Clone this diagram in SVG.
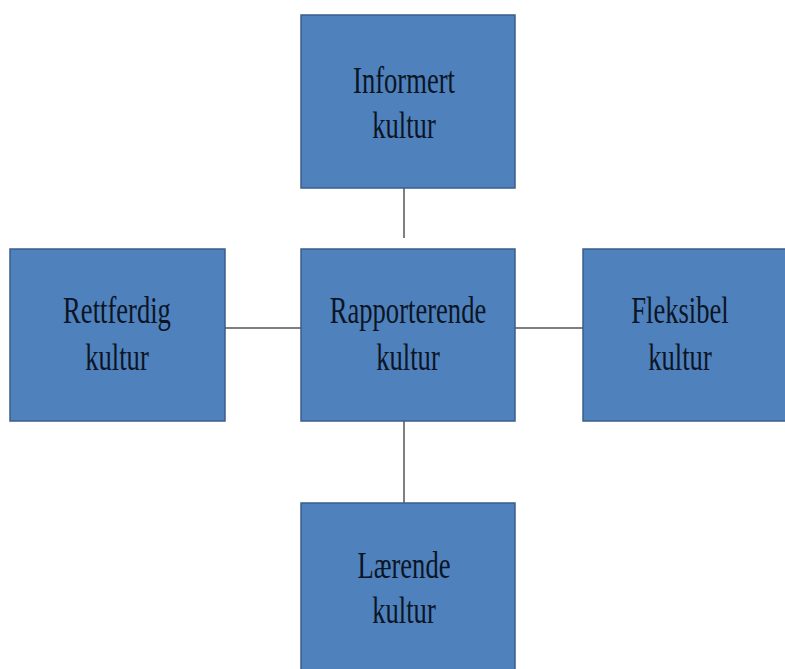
<svg xmlns="http://www.w3.org/2000/svg" width="785" height="669" viewBox="0 0 785 669">
<style>
.box{fill:#4F81BD;stroke:#3B5E8C;stroke-width:1.5}
.t{font-family:"Liberation Serif","Times New Roman",serif;font-size:38px;fill:#0B1524;text-anchor:middle}
.c{stroke:#555;stroke-width:1.5;fill:none}
</style>
<rect width="785" height="669" fill="#fff"/>
<g id="connectors">
<line class="c" x1="404" y1="188" x2="404" y2="238"/>
<line class="c" x1="225" y1="328" x2="301" y2="328"/>
<line class="c" x1="515" y1="328" x2="583" y2="328"/>
<line class="c" x1="404" y1="421" x2="404" y2="503"/>
</g>
<g id="informert">
<rect class="box" x="301" y="15" width="214" height="173"/>
<g transform="translate(404,0) scale(0.7,1)"><text class="t" x="0" y="93">Informert</text><text class="t" x="0" y="138">kultur</text></g>
</g>
<g id="rettferdig">
<rect class="box" x="10" y="249" width="215" height="172"/>
<g transform="translate(117,0) scale(0.7,1)"><text class="t" x="0" y="323">Rettferdig</text><text class="t" x="0" y="370">kultur</text></g>
</g>
<g id="rapporterende">
<rect class="box" x="301" y="249" width="214" height="172"/>
<g transform="translate(408,0) scale(0.7,1)"><text class="t" x="0" y="323">Rapporterende</text><text class="t" x="0" y="370">kultur</text></g>
</g>
<g id="fleksibel">
<rect class="box" x="583" y="249" width="214" height="172"/>
<g transform="translate(680,0) scale(0.7,1)"><text class="t" x="0" y="323">Fleksibel</text><text class="t" x="0" y="370">kultur</text></g>
</g>
<g id="laerende">
<rect class="box" x="301" y="503" width="214" height="180"/>
<g transform="translate(404,0) scale(0.7,1)"><text class="t" x="0" y="578">Lærende</text><text class="t" x="0" y="623">kultur</text></g>
</g>
</svg>
